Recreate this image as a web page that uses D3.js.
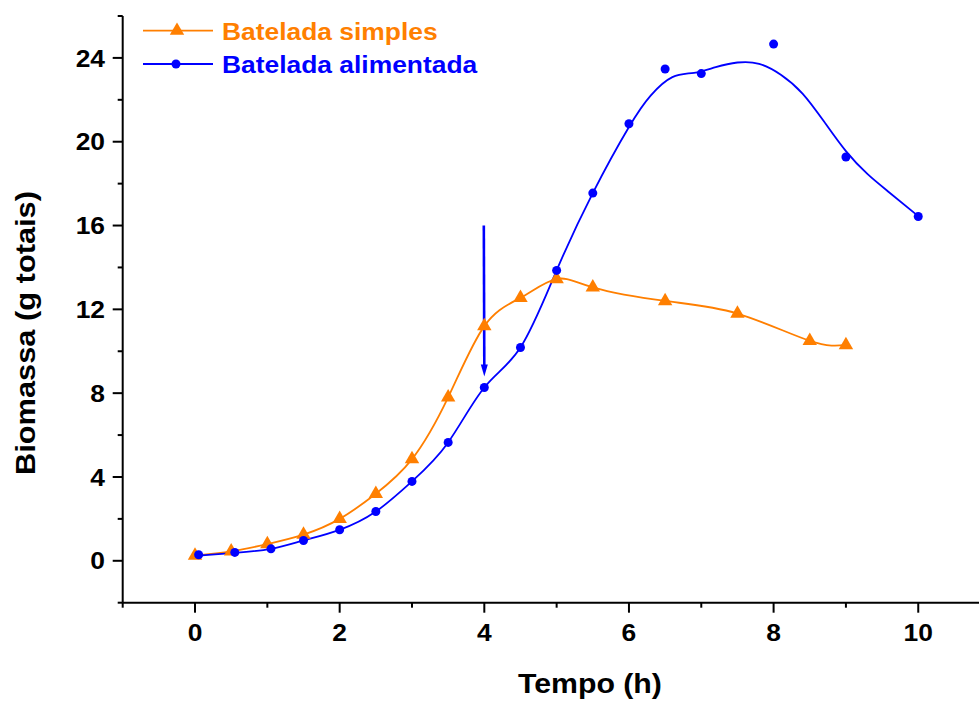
<!DOCTYPE html>
<html>
<head>
<meta charset="utf-8">
<script src="https://cdn.jsdelivr.net/npm/d3@7"></script>
<style>
  html, body { margin: 0; padding: 0; background: #fff; }
  svg { display: block; }
  text { font-family: "Liberation Sans", Arial, Helvetica, sans-serif; font-weight: bold; }
</style>
</head>
<body>
<svg id="chart" width="979" height="702"></svg>
<script>
// Batelada simples (batch)
const tempoSimples = [0, 0.5, 1, 1.5, 2, 2.5, 3, 3.5, 4, 4.5, 5, 5.5, 6.5, 7.5, 8.5, 9];
const biomassaSimples = [0.25, 0.45, 0.8, 1.25, 2.0, 3.2, 4.85, 7.8, 11.2, 12.55, 13.45, 13.05, 12.4, 11.8, 10.5, 10.3];

// Batelada alimentada (fed-batch)
const tempoAlimentada = [0.05, 0.55, 1.05, 1.5, 2, 2.5, 3, 3.5, 4, 4.5, 5, 5.5, 6, 6.5, 7, 8, 9, 10];
const biomassaAlimentada = [0.29, 0.4, 0.57, 0.97, 1.48, 2.35, 3.79, 5.65, 8.27, 10.18, 13.86, 17.55, 20.86, 23.47, 23.25, 24.66, 19.27, 16.43];

// Smoothed curve for the fed-batch series
const ajusteTempo = [0.05, 0.55, 1.05, 1.5, 2, 2.5, 3, 3.5, 4, 4.5, 5, 5.5, 6.0, 6.3, 6.6, 6.9, 7.2, 7.5, 7.8, 8.1, 8.4, 8.7, 9.0, 9.3, 9.6, 10];
const ajusteBiomassa = [0.25, 0.38, 0.57, 0.97, 1.48, 2.35, 3.79, 5.65, 8.27, 10.18, 13.86, 17.55, 20.7, 22.2, 23.08, 23.29, 23.56, 23.78, 23.72, 23.2, 22.3, 20.95, 19.55, 18.45, 17.58, 16.45];

// Feeding start marker (arrow)
const setaTempo = 4;
const setaBiomassa = [16, 8.8];

// Axis ticks
const xTicks = [0, 2, 4, 6, 8, 10];
const xMinor = [-1, 1, 3, 5, 7, 9];
const yTicks = [0, 4, 8, 12, 16, 20, 24];
const yMinor = [-2, 2, 6, 10, 14, 18, 22, 26];

const legendLabels = ["Batelada simples", "Batelada alimentada"];
const corSimples = "#ff7f00";
const corAlimentada = "#0000ff";
const stretch = 1.1;

const svg = d3.select("#chart");
const x = d3.scaleLinear().domain([-1, 10.84]).range([122.7, 979]);
const y = d3.scaleLinear().domain([-2, 26]).range([602.7, 16]);

// Axes
const axisG = svg.append("g");
axisG.append("line").attr("x1", x(-1)).attr("x2", x(10.84)).attr("y1", y(-2)).attr("y2", y(-2))
  .attr("stroke", "#000").attr("stroke-width", 2);
axisG.append("line").attr("x1", x(-1)).attr("x2", x(-1)).attr("y1", y(-2)).attr("y2", y(26))
  .attr("stroke", "#000").attr("stroke-width", 2);

axisG.selectAll(".xt").data(xTicks).join("line")
  .attr("x1", d => x(d)).attr("x2", d => x(d)).attr("y1", y(-2)).attr("y2", y(-2) + 10)
  .attr("stroke", "#000").attr("stroke-width", 2);
axisG.selectAll(".xm").data(xMinor).join("line")
  .attr("x1", d => x(d)).attr("x2", d => x(d)).attr("y1", y(-2)).attr("y2", y(-2) + 5)
  .attr("stroke", "#000").attr("stroke-width", 2);
axisG.selectAll(".yt").data(yTicks).join("line")
  .attr("x1", x(-1) - 10).attr("x2", x(-1)).attr("y1", d => y(d)).attr("y2", d => y(d))
  .attr("stroke", "#000").attr("stroke-width", 2);
axisG.selectAll(".ym").data(yMinor).join("line")
  .attr("x1", x(-1) - 5).attr("x2", x(-1)).attr("y1", d => y(d)).attr("y2", d => y(d))
  .attr("stroke", "#000").attr("stroke-width", 2);

// Tick labels
axisG.selectAll(".xl").data(xTicks).join("text")
  .attr("transform", d => `translate(${x(d)},641) scale(${stretch},1)`)
  .attr("text-anchor", "middle").attr("font-size", 24).text(d => d);
axisG.selectAll(".yl").data(yTicks).join("text")
  .attr("transform", d => `translate(105,${y(d)}) scale(${stretch},1)`)
  .attr("text-anchor", "end").attr("dy", "0.36em").attr("font-size", 24).text(d => d);

// Axis titles
svg.append("text").attr("transform", `translate(590,693) scale(1.08,1)`)
  .attr("text-anchor", "middle").attr("font-size", 28).text("Tempo (h)");
svg.append("text").attr("transform", `translate(35,333) rotate(-90) scale(${stretch},1)`)
  .attr("text-anchor", "middle").attr("font-size", 28).text("Biomassa (g totais)");

// Curves (cubic spline through the points)
const lineGen = d3.line().x(d => x(d[0])).y(d => y(d[1])).curve(d3.curveNatural);
const simples = tempoSimples.map((t, i) => [t, biomassaSimples[i]]);
const alimentada = tempoAlimentada.map((t, i) => [t, biomassaAlimentada[i]]);
const ajuste = ajusteTempo.map((t, i) => [t, ajusteBiomassa[i]]);

svg.append("path").datum(simples).attr("d", lineGen)
  .attr("fill", "none").attr("stroke", corSimples).attr("stroke-width", 1.8);
svg.append("path").datum(ajuste).attr("d", lineGen)
  .attr("fill", "none").attr("stroke", corAlimentada).attr("stroke-width", 1.8);

// Arrow marking start of feeding
svg.append("line")
  .attr("x1", x(setaTempo) - 0.5).attr("x2", x(setaTempo)).attr("y1", y(setaBiomassa[0])).attr("y2", y(setaBiomassa[1]) - 10)
  .attr("stroke", corAlimentada).attr("stroke-width", 2.6);
const tipY = y(setaBiomassa[1]);
svg.append("path")
  .attr("d", `M${x(setaTempo) - 3.5},${tipY - 12} L${x(setaTempo) + 3.5},${tipY - 12} L${x(setaTempo)},${tipY} Z`)
  .attr("fill", corAlimentada);

// Markers
const tri = d3.symbol().type(d3.symbolTriangle).size(90);
svg.selectAll(".tri").data(simples).join("path")
  .attr("d", tri).attr("transform", d => `translate(${x(d[0])},${y(d[1])})`)
  .attr("fill", corSimples);
svg.selectAll(".dot").data(alimentada).join("circle")
  .attr("cx", d => x(d[0])).attr("cy", d => y(d[1])).attr("r", 4.5)
  .attr("fill", corAlimentada);

// Legend
const legend = svg.append("g");
const legendRows = [
  { label: legendLabels[0], color: corSimples, y: 30.7, mark: "tri" },
  { label: legendLabels[1], color: corAlimentada, y: 64, mark: "dot" }
];
legendRows.forEach(r => {
  legend.append("line").attr("x1", 143).attr("x2", 213).attr("y1", r.y).attr("y2", r.y)
    .attr("stroke", r.color).attr("stroke-width", 1.8);
  if (r.mark === "tri") {
    legend.append("path").attr("d", tri).attr("transform", `translate(177,${r.y})`).attr("fill", r.color);
  } else {
    legend.append("circle").attr("cx", 176).attr("cy", r.y).attr("r", 4.5).attr("fill", r.color);
  }
  legend.append("text").attr("transform", `translate(222,${r.y + 9}) scale(${stretch},1)`)
    .attr("font-size", 24).attr("fill", r.color).text(r.label);
});
</script>
</body>
</html>
